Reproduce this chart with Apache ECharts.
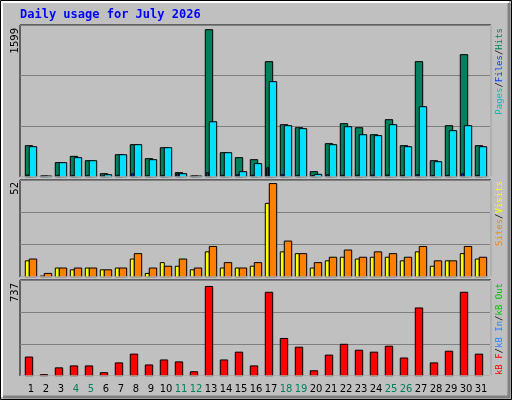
<!DOCTYPE html><html><head><meta charset="utf-8">
<script src="https://cdn.jsdelivr.net/npm/echarts@6/dist/echarts.min.js"></script>
<style>html,body{margin:0;padding:0;background:#c0c0c0}#c{width:512px;height:400px}</style></head><body><div id="c"></div>
<script>
const days=[1,2,3,4,5,6,7,8,9,10,11,12,13,14,15,16,17,18,19,20,21,22,23,24,25,26,27,28,29,30,31];
const weekends=[4,5,11,12,18,19,25,26];
const hits=[340,10,156,224,177,36,242,351,199,318,47,8,1599,264,210,188,1252,568,535,58,362,579,535,459,622,340,1252,177,557,1328,340];
const pages=[329,5,156,210,177,25,242,351,188,318,36,4,600,264,58,145,1035,557,525,29,351,546,459,449,568,329,763,166,503,557,329];
const files=[22,4,18,18,15,12,20,36,15,18,36,4,47,20,25,20,101,25,18,15,25,20,20,22,22,18,25,15,18,36,18];
const visits=[9,0,5,4,5,4,5,10,2,8,6,4,14,5,5,6,41,14,13,5,9,11,10,11,11,9,14,6,9,13,10];
const sites=[10,2,5,5,5,4,5,13,5,6,10,5,17,8,5,8,52,20,13,8,11,15,11,14,13,11,17,9,9,17,11];
const kbytes=[156,11,67,83,83,27,108,180,91,132,116,35,737,132,196,83,689,309,237,43,172,261,212,196,245,148,560,108,204,689,180];
const maxLabels=['1599','52','737'];

const mono='"DejaVu Sans Mono", monospace';
function barSeries(data,gi,color,x0,x1){
  return {type:'custom',xAxisIndex:gi,yAxisIndex:gi,data:data.map((v,i)=>[days[i],v]),
    renderItem:(p,api)=>{const top=api.coord([api.value(0),api.value(1)]);const bot=api.coord([api.value(0),0]);
      const h=Math.max(bot[1]-top[1],1);
      return {type:'rect',shape:{x:top[0]+x0,y:bot[1]-h,width:x1-x0,height:h},style:{fill:color,stroke:'#000',lineWidth:1}};}};
}
const grids=[{left:20,right:21,top:25,height:152},{left:20,right:21,top:180,height:97},{left:20,right:21,top:280,height:96}];
const ymax=[1650,54,790];
const xAxes=grids.map((g,i)=>({type:'value',gridIndex:i,min:0.267,max:31.667,
  axisLine:{show:false},axisTick:{show:false},splitLine:{show:false},
  axisLabel:i===2?{show:true,customValues:days,margin:8,fontFamily:'DejaVu Sans',fontSize:10,
    formatter:v=>weekends.includes(v)?'{w|'+v+'}':'{n|'+v+'}',rich:{w:{color:'#00805c',fontSize:10,fontFamily:'DejaVu Sans'},n:{color:'#000',fontSize:10,fontFamily:'DejaVu Sans'}}}:{show:false}}));
const yAxes=grids.map((g,i)=>({type:'value',gridIndex:i,min:0,max:ymax[i],interval:ymax[i]/3,
  axisLine:{show:false},axisTick:{show:false},axisLabel:{show:false},
  splitLine:{show:true,lineStyle:{color:'#808080',width:1}}}));
function vtext(x,y,parts){ // rotated, reading bottom to top, ending at y
  return {type:'text',x:x,y:y,rotation:Math.PI/2,style:{rich:parts.rich,text:parts.text,align:'right',verticalAlign:'middle',font:'9px '+mono}};
}
function legend(x,y,items){
  const rich={};let text='';
  items.forEach((it,k)=>{rich['a'+k]={fill:it[1],font:'9px '+mono,fontFamily:'DejaVu Sans Mono',fontSize:9};text+=(k?'{s|/}':'')+'{a'+k+'|'+it[0]+'}';});
  rich.s={fill:'#000',fontFamily:'DejaVu Sans Mono',fontSize:9};
  return {type:'text',x:x,y:y,rotation:Math.PI/2,style:{rich:rich,text:text,align:'right',verticalAlign:'middle',fontFamily:'DejaVu Sans Mono',fontSize:9}};
}
function ylab(y,t){return {type:'text',x:15,y:y,rotation:Math.PI/2,style:{text:t,align:'right',verticalAlign:'middle',fontFamily:'DejaVu Sans',fontSize:10,fill:'#000'}};}
const chart=echarts.init(document.getElementById('c'));
chart.setOption({backgroundColor:'#c0c0c0',animation:false,
  grid:grids.map(g=>Object.assign({show:true,backgroundColor:'#c0c0c0',borderColor:'#000',borderWidth:1},g)),
  xAxis:xAxes,yAxis:yAxes,
  series:[barSeries(hits,0,'#00805c',-5.7,1.7),barSeries(files,0,'#0040ff',-4.3,-2.3),barSeries(pages,0,'#00e0ff',-1.7,5.7),
    barSeries(visits,1,'#ffff00',-5.7,-1.7),barSeries(sites,1,'#ff8000',-1.7,5.7),
    barSeries(kbytes,2,'#ff0000',-5.7,1.7)],
  graphic:[
    {type:'rect',shape:{x:0.5,y:0.5,width:511,height:399},style:{fill:'none',stroke:'#000',lineWidth:1},z:-1},
    {type:'polyline',shape:{points:[[2,397],[2,2],[509,2]]},style:{stroke:'#fff',lineWidth:2,fill:'none'}},
    {type:'polyline',shape:{points:[[3,397],[509,397],[509,3]]},style:{stroke:'#808080',lineWidth:3,fill:'none'}},
    {type:'polyline',shape:{points:[[20,177],[491,177],[491,25]]},style:{stroke:'#fff',lineWidth:1,fill:'none'},z:10},
    {type:'polyline',shape:{points:[[20,277],[491,277],[491,180]]},style:{stroke:'#fff',lineWidth:1,fill:'none'},z:10},
    {type:'polyline',shape:{points:[[20,376],[491,376],[491,280]]},style:{stroke:'#fff',lineWidth:1,fill:'none'},z:10},
    {type:'text',x:20,y:15,style:{text:'Daily usage for July 2026',fill:'#0000ff',fontFamily:'DejaVu Sans Mono',fontWeight:'bold',fontSize:12,verticalAlign:'middle'}},
    ylab(28,maxLabels[0]),ylab(182,maxLabels[1]),ylab(283,maxLabels[2]),
    legend(500,28,[['Pages','#00c0c0'],['Files','#0040ff'],['Hits','#00805c']]),
    legend(500,181,[['Sites','#ff8000'],['Visits','#ffff00']]),
    legend(500,283,[['kB F','#ff0000'],['kB In','#3080ff'],['kB Out','#00c000']])
  ]});
</script></body></html>
